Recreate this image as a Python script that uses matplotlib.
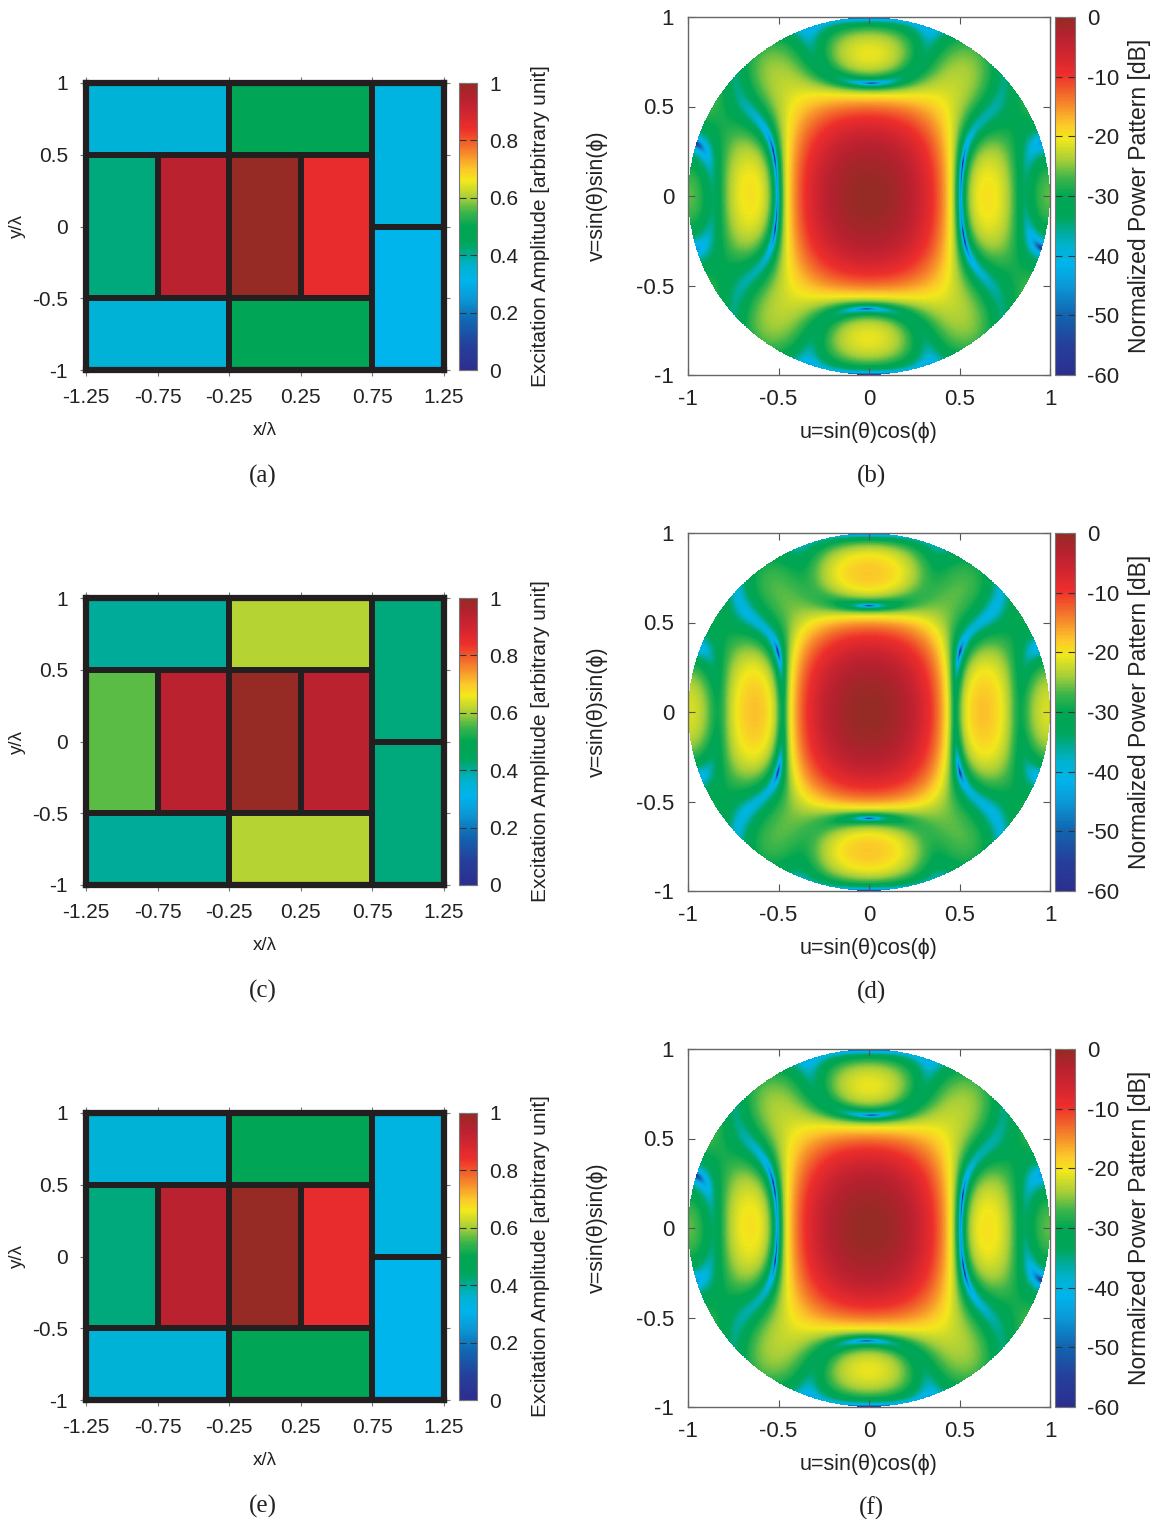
import numpy as np
import matplotlib
matplotlib.use('Agg')
from matplotlib import pyplot as plt
from matplotlib.colors import LinearSegmentedColormap, Normalize
from matplotlib.patches import Rectangle
from matplotlib.cm import ScalarMappable

plt.rcParams['font.family'] = ['Liberation Sans', 'DejaVu Sans']
plt.rcParams['axes.unicode_minus'] = False

# tiles of the 2.5 x 2 wavelength aperture: (x0, x1, y0, y1) in wavelengths
tiles = [(-1.25, -0.25, 0.5, 1.0), (-0.25, 0.75, 0.5, 1.0), (0.75, 1.25, 0.0, 1.0),
         (-1.25, -0.75, -0.5, 0.5), (-0.75, -0.25, -0.5, 0.5), (-0.25, 0.25, -0.5, 0.5),
         (0.25, 0.75, -0.5, 0.5), (0.75, 1.25, -1.0, 0.0),
         (-1.25, -0.25, -1.0, -0.5), (-0.25, 0.75, -1.0, -0.5)]

# excitation amplitude of each tile
amp_a = [0.35, 0.47, 0.33, 0.42, 0.94, 1.00, 0.85, 0.31, 0.35, 0.47]
amp_c = [0.40, 0.61, 0.42, 0.565, 0.94, 1.00, 0.94, 0.42, 0.40, 0.61]
amp_e = [0.35, 0.47, 0.33, 0.42, 0.94, 1.00, 0.85, 0.31, 0.35, 0.47]

# half-wavelength spaced elements under the tiles
elem_x = [-1.0, -0.5, 0.0, 0.5, 1.0]
elem_y = [-0.75, -0.25, 0.25, 0.75]

x_ticks = [-1.25, -0.75, -0.25, 0.25, 0.75, 1.25]
y_ticks = [-1, -0.5, 0, 0.5, 1]
uv_ticks = [-1, -0.5, 0, 0.5, 1]
amp_ticks = [0, 0.2, 0.4, 0.6, 0.8, 1]
db_ticks = [-60, -50, -40, -30, -20, -10, 0]
panel_letters = [('(a)', '(b)'), ('(c)', '(d)'), ('(e)', '(f)')]

cmap = LinearSegmentedColormap.from_list('pub', [
    (0.00, '#2b2f8f'), (0.08, '#263e9b'), (0.17, '#1166b1'), (0.25, '#0a9ad8'),
    (0.31, '#00b4ec'), (0.36, '#00b3d0'), (0.40, '#00ab9a'), (0.44, '#00a65a'),
    (0.50, '#00a651'), (0.55, '#3cb54a'), (0.60, '#a6ce39'), (0.66, '#f3e81b'),
    (0.70, '#fcc82a'), (0.75, '#f7902a'), (0.80, '#f15a2b'), (0.84, '#ee2e2c'),
    (0.90, '#cf2530'), (0.95, '#b5212f'), (1.00, '#962b25')])

W, H = 1155.0, 1519.0


def box(x0, y0, x1, y1):
    return [x0 / W, 1 - y1 / H, (x1 - x0) / W, (y1 - y0) / H]


def power_pattern(amps, n=900):
    u = np.linspace(-1, 1, n)
    U, V = np.meshgrid(u, u)
    af = np.zeros_like(U, dtype=complex)
    for ex in elem_x:
        for ey in elem_y:
            a = 0.0
            for (x0, x1, y0, y1), t in zip(tiles, amps):
                if x0 < ex < x1 and y0 < ey < y1:
                    a = t
            af += a * np.exp(2j * np.pi * (ex * U + ey * V))
    p = 20 * np.log10(np.abs(af) / np.abs(af).max() + 1e-12)
    p = np.clip(p, -60, 0)
    return np.ma.masked_where(U ** 2 + V ** 2 > 1, p)


def fmt(v):
    return '%g' % v


fig = plt.figure(figsize=(11.55, 15.19), dpi=100)
tc = '#222222'

for r, amps in enumerate([amp_a, amp_c, amp_e]):
    dl = [0, 515, 1030][r]
    dr = [0, 516, 1032][r]

    # ---- tile layout
    ax = fig.add_axes(box(86, 83 + dl, 444, 370 + dl))
    norm = Normalize(0, 1)
    for (x0, x1, y0, y1), a in zip(tiles, amps):
        ax.add_patch(Rectangle((x0, y0), x1 - x0, y1 - y0, facecolor=cmap(norm(a)),
                               edgecolor='#231f20', linewidth=4.3, clip_on=False))
    ax.set_xlim(-1.25, 1.25)
    ax.set_ylim(-1, 1)
    ax.set_xticks(x_ticks)
    ax.set_xticklabels([fmt(v) for v in x_ticks])
    ax.set_yticks(y_ticks)
    ax.set_yticklabels([fmt(v) for v in y_ticks])
    for s in ax.spines.values():
        s.set_linewidth(4.5)
        s.set_color('#231f20')
    ax.tick_params(direction='out', length=4, width=0.8, color='#777777', labelsize=15,
                   labelcolor=tc, top=True, right=True, pad=9)
    ax.set_xlabel('x/\u03bb', fontsize=13.5, color=tc, labelpad=11)
    ax.set_ylabel('y/\u03bb', fontsize=13.5, color=tc, labelpad=4)

    cax = fig.add_axes(box(459, 83 + dl, 477, 370 + dl))
    cb = fig.colorbar(ScalarMappable(norm=norm, cmap=cmap), cax=cax, ticks=amp_ticks)
    cb.ax.set_yticklabels([fmt(v) for v in amp_ticks])
    cb.outline.set_edgecolor('#777777')
    cb.outline.set_linewidth(0.8)
    cb.ax.tick_params(direction='in', left=True, right=True, length=5, width=0.8,
                      color='#333333', labelsize=15, labelcolor=tc, pad=9)
    cb.set_label('Excitation Amplitude [arbitrary unit]', fontsize=15, color=tc, labelpad=9)

    # ---- power pattern
    bx = fig.add_axes(box(688, 17 + dr, 1050, 375 + dr))
    p = power_pattern(amps)
    dnorm = Normalize(-60, 0)
    bx.imshow(p, extent=(-1, 1, -1, 1), origin='lower', cmap=cmap, norm=dnorm,
              interpolation='nearest', aspect='auto')
    bx.set_xlim(-1, 1)
    bx.set_ylim(-1, 1)
    bx.set_xticks(uv_ticks)
    bx.set_xticklabels([fmt(v) for v in uv_ticks])
    bx.set_yticks(uv_ticks)
    bx.set_yticklabels([fmt(v) for v in uv_ticks])
    for s in bx.spines.values():
        s.set_linewidth(1.0)
        s.set_color('#666666')
    bx.tick_params(direction='in', length=5, width=0.8, color='#555555', labelsize=16,
                   labelcolor=tc, top=True, right=True, pad=10)
    bx.set_xlabel('u=sin(\u03b8)cos(\u03d5)', fontsize=15.5, color=tc, labelpad=9)
    bx.set_ylabel('v=sin(\u03b8)sin(\u03d5)', fontsize=15.5, color=tc, labelpad=20)

    dcax = fig.add_axes(box(1055, 17 + dr, 1075, 375 + dr))
    cb2 = fig.colorbar(ScalarMappable(norm=dnorm, cmap=cmap), cax=dcax, ticks=db_ticks)
    cb2.ax.set_yticklabels([fmt(v) for v in db_ticks])
    cb2.outline.set_edgecolor('#777777')
    cb2.outline.set_linewidth(0.8)
    cb2.ax.tick_params(direction='in', left=True, right=True, length=5, width=0.8,
                       color='#333333', labelsize=16, labelcolor=tc, pad=9)
    cb2.set_label('Normalized Power Pattern [dB]', fontsize=16.5, color=tc, labelpad=6)

    la, lb = panel_letters[r]
    fig.text(263 / W, 1 - (476 + dl) / H, la, fontsize=18, family='Liberation Serif',
             ha='center', va='center', color=tc)
    fig.text(871 / W, 1 - (476 + dr) / H, lb, fontsize=18, family='Liberation Serif',
             ha='center', va='center', color=tc)

fig.savefig('out.png', dpi=100)
